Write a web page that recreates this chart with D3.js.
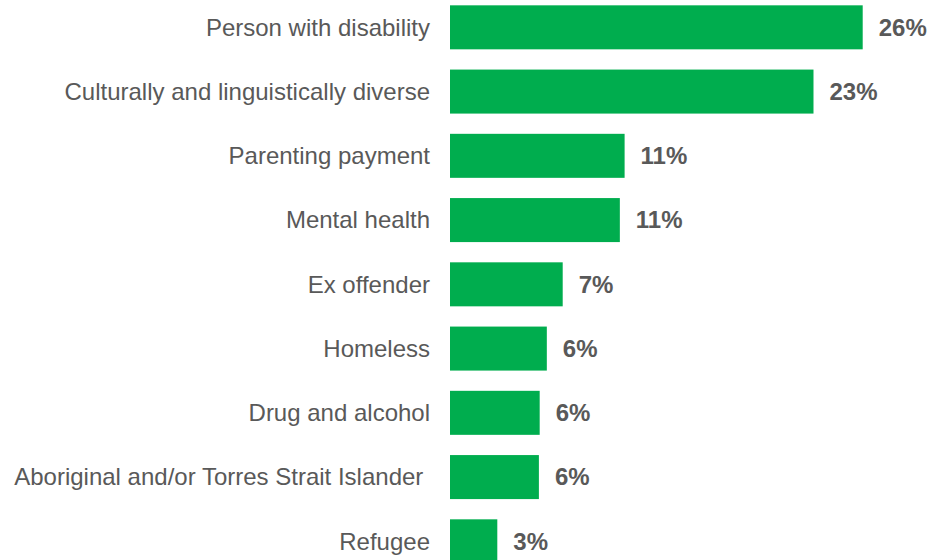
<!DOCTYPE html>
<html>
<head>
<meta charset="utf-8">
<script src="https://cdn.jsdelivr.net/npm/d3@7"></script>
<style>
  html, body { margin: 0; padding: 0; background: #fff; }
  svg { display: block; }
</style>
</head>
<body>
<svg id="chart"></svg>
<script>
// 类别与数值（百分比）
var categories = [
    'Person with disability',
    'Culturally and linguistically diverse',
    'Parenting payment',
    'Mental health',
    'Ex offender',
    'Homeless',
    'Drug and alcohol',
    'Aboriginal and/or Torres Strait Islander ',
    'Refugee'
];
var values = [26.0, 22.9, 11.0, 10.7, 7.1, 6.1, 5.65, 5.6, 2.98];

var width = 929, height = 560;
var left = 450;
var barColor = '#00ad4e';
var textColor = '#595959';

var svg = d3.select('#chart')
    .attr('width', width)
    .attr('height', height)
    .attr('font-family', 'Liberation Sans, Arial, sans-serif');

var x = d3.scaleLinear()
    .domain([0, 26])
    .range([0, 412.7]);

var y = d3.scaleBand()
    .domain(categories)
    .range([-4.8, 573.45])
    .paddingInner(0.315)
    .paddingOuter(0.1575);

var g = svg.append('g').attr('transform', 'translate(' + left + ',0)');

// 柱子
g.selectAll('rect.bar')
    .data(values)
    .enter()
    .append('rect')
    .attr('class', 'bar')
    .attr('x', 0)
    .attr('y', function (d, i) { return y(categories[i]); })
    .attr('width', function (d) { return x(d); })
    .attr('height', y.bandwidth())
    .attr('fill', barColor);

// 数值标签
g.selectAll('text.val')
    .data(values)
    .enter()
    .append('text')
    .attr('class', 'val')
    .attr('x', function (d) { return x(d) + 16; })
    .attr('y', function (d, i) { return y(categories[i]) + y.bandwidth() / 2; })
    .attr('dy', '0.35em')
    .attr('font-size', 24)
    .attr('font-weight', 'bold')
    .attr('fill', textColor)
    .text(function (d) { return Math.round(d) + '%'; });

// 类别标签
g.selectAll('text.cat')
    .data(categories)
    .enter()
    .append('text')
    .attr('class', 'cat')
    .attr('x', -20)
    .attr('y', function (d) { return y(d) + y.bandwidth() / 2; })
    .attr('dy', '0.35em')
    .attr('text-anchor', 'end')
    .attr('font-size', 24)
    .attr('fill', textColor)
    .style('white-space', 'pre')
    .text(function (d) { return d; });
</script>
</body>
</html>
